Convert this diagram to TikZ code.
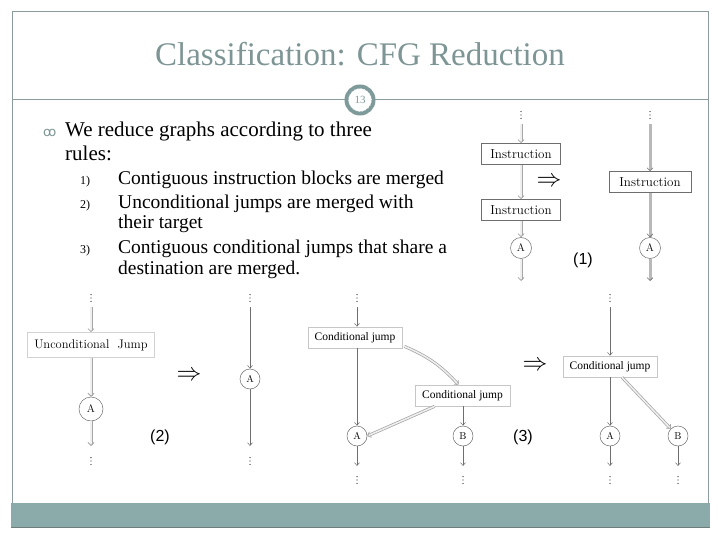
\documentclass[tikz,border=0pt]{standalone}
\usepackage{fontspec}
\newfontfamily\geo{Liberation Serif}
\newfontfamily\arl{Liberation Sans}
\newfontfamily\dvs{DejaVu Sans}
\usetikzlibrary{arrows.meta,calc}
\definecolor{framec}{HTML}{8C9C9C}
\definecolor{barc}{HTML}{8BABAA}
\definecolor{titlec}{HTML}{7E9595}
\definecolor{ringc}{HTML}{7F9A9A}
\definecolor{linec}{HTML}{6E6E6E}
\begin{document}
\begin{tikzpicture}[x=1pt,y=-1pt,
  instbox/.style={draw=linec, line width=0.6pt, fill=white, minimum width=79pt, minimum height=21pt, inner sep=0pt, font=\fontsize{13}{13}\selectfont},
  ujbox/.style={draw=gray!35, line width=0.6pt, fill=white, minimum width=127pt, minimum height=25pt, inner sep=0pt, font=\fontsize{12.5}{12.5}\selectfont},
  cjbox/.style={draw=gray!45, line width=0.6pt, fill=white, minimum width=94pt, minimum height=21pt, inner sep=0pt, font=\geo\fontsize{11.5}{11.5}\selectfont},
  vert/.style={circle, draw=linec, line width=0.5pt, fill=white, inner sep=0pt, minimum size=21pt, font=\fontsize{11}{11}\selectfont},
  dotsn/.style={inner sep=0pt, minimum width=3pt, minimum height=10pt,
    path picture={\foreach \k in {-1,0,1} \fill[black!80] ($(path picture bounding box.center)+(0,\k*3.4)$) circle (0.65pt);}},
  dbl/.style={draw=gray!70, line width=0.75pt, double=gray!12, double distance=1.5pt, -{Straight Barb[length=3pt,width=6pt]}},
  thinarr/.style={draw=linec, line width=0.5pt, -{Straight Barb[length=3pt,width=5pt]}},
  glin/.style={draw=gray!55, line width=3pt, -{Straight Barb[length=3pt,width=6pt,line width=0.6pt,color=linec]}},
  impl/.style={inner sep=0pt, font=\fontsize{25}{25}\selectfont},
  lab/.style={inner sep=0pt, font=\arl\fontsize{16}{16}\selectfont},
  bodytxt/.style={inner sep=0pt, anchor=base west, font=\geo\fontsize{21}{21}\selectfont},
  subtxt/.style={inner sep=0pt, anchor=base west, font=\geo\fontsize{19.5}{19.5}\selectfont},
  numtxt/.style={inner sep=0pt, anchor=base west, font=\geo\fontsize{12}{12}\selectfont}
]
\useasboundingbox (0,0) rectangle (720,540);
% slide frame
\draw[framec, line width=1pt] (12,503) -- (12,12) -- (708,12) -- (708,503);
\draw[framec, line width=1pt] (12,100) -- (708,100);
\fill[barc] (11,503) rectangle (710,527);
\draw[framec!80!black, line width=0.8pt] (11,527) -- (710,527);
\node[inner sep=0pt, text=titlec, font=\geo\fontsize{33}{33}\selectfont] (title) at (360,54) {Classification: CFG Reduction};
\node[circle, draw=ringc, line width=4pt, fill=white, minimum size=27pt, inner sep=0pt, text=ringc, font=\geo\fontsize{11}{11}\selectfont] (pg) at (360,100) {13};
\draw[white, line width=0.6pt, dash pattern=on 0.8pt off 2.5pt] (pg.center) circle (11.5pt);

% text
\node[inner sep=0pt, anchor=base west, font=\dvs\fontsize{13}{13}\selectfont, text=titlec] (bul) at (43,137) {ꝏ};
\node[bodytxt] (t1) at (65,137) {We reduce graphs according to three};
\node[bodytxt] (t2) at (65,161) {rules:};
\node[numtxt] (n1) at (80,185) {1)};
\node[subtxt] (s1) at (118,185) {Contiguous instruction blocks are merged};
\node[numtxt] (n2) at (80,208) {2)};
\node[subtxt] (s2) at (118,208) {Unconditional jumps are merged with};
\node[subtxt] (s2b) at (118,229) {their target};
\node[numtxt] (n3) at (80,253) {3)};
\node[subtxt] (s3) at (118,253) {Contiguous conditional jumps that share a};
\node[subtxt] (s3b) at (118,274) {destination are merged.};

% ---------- diagram (1)
\node[dotsn] (d1) at (521,115) {};
\node[instbox] (i1) at (521,154) {Instruction};
\node[instbox] (i2) at (521,210) {Instruction};
\node[vert] (a1) at (521,248) {A};
\coordinate (e1) at (521,281);
\draw[dbl] ($(d1.south)+(0,4)$) -- (i1.north);
\draw[dbl] (i1.south) -- (i2.north);
\draw[dbl] (i2.south) -- (a1.north);
\draw[dbl] (a1.south) -- (e1);

\node[dotsn] (d2) at (650,115) {};
\node[instbox, minimum width=82pt] (i3) at (650,182) {Instruction};
\node[vert] (a2) at (650,248) {A};
\coordinate (e2) at (650,281);
\draw[glin] ($(d2.south)+(0,4)$) -- (i3.north);
\draw[glin] (i3.south) -- (a2.north);
\draw[glin] (a2.south) -- (e2);
\node[impl] (imp1) at (549,182) {$\Rightarrow$};
\node[lab] (l1) at (583,260) {(1)};

% ---------- diagram (2)
\node[dotsn] (d3) at (91,298) {};
\node[ujbox] (uj) at (91,345) {Unconditional\ \ Jump};
\node[vert, minimum size=24pt] (a3) at (91,409) {A};
\coordinate (e3) at (91,446);
\node[dotsn] (d4) at (91,461) {};
\draw[dbl] ($(d3.south)+(0,4)$) -- (uj.north);
\draw[dbl] (uj.south) -- (a3.north);
\draw[dbl] (a3.south) -- (e3);

\node[dotsn] (d5) at (250,298) {};
\node[vert, minimum size=20pt, font=\fontsize{10}{10}\selectfont] (a4) at (250,379) {A};
\coordinate (e4) at (250,446);
\node[dotsn] (d6) at (250,461) {};
\draw[thinarr] ($(d5.south)+(0,4)$) -- (a4.north);
\draw[thinarr] (a4.south) -- (e4);
\node[impl] (imp2) at (189,376) {$\Rightarrow$};
\node[lab] (l2) at (160,437) {(2)};

% ---------- diagram (3)
\node[dotsn] (d7) at (357,298) {};
\node[cjbox] (c1) at (355,337.5) {Conditional jump};
\node[cjbox, minimum width=95pt] (c2) at (462.5,395.5) {Conditional jump};
\node[vert, minimum size=20pt, font=\fontsize{10}{10}\selectfont] (a5) at (357,436) {A};
\node[vert, minimum size=20pt, font=\fontsize{10}{10}\selectfont] (b1) at (463,436) {B};
\coordinate (e5) at (357,466);
\coordinate (e6) at (463,466);
\node[dotsn] (d8) at (357,480) {};
\node[dotsn] (d9) at (463,480) {};
\draw[thinarr] ($(d7.south)+(0,4)$) -- (c1.north -| d7);
\draw[thinarr] (c1.south -| a5) -- (a5.north);
\draw[dbl] ($(c1.south east)+(2,-2)$) to[bend left=12] ($(c2.north)+(-4,0)$);
\draw[thinarr] (c2.south -| b1) -- (b1.north);
\draw[dbl] ($(c2.south west)+(20,0)$) -- (a5.east);
\draw[thinarr] (a5.south) -- (e5);
\draw[thinarr] (b1.south) -- (e6);
\node[impl] (imp3) at (535,366) {$\Rightarrow$};
\node[lab] (l3) at (523,437) {(3)};

\node[dotsn] (d10) at (610,298) {};
\node[cjbox] (c3) at (610,366.5) {Conditional jump};
\node[vert, minimum size=20pt, font=\fontsize{10}{10}\selectfont] (a6) at (610,436) {A};
\node[vert, minimum size=20pt, font=\fontsize{10}{10}\selectfont] (b2) at (678,436) {B};
\coordinate (e7) at (610,466);
\coordinate (e8) at (678,466);
\node[dotsn] (d11) at (610,480) {};
\node[dotsn] (d12) at (678,480) {};
\draw[thinarr] ($(d10.south)+(0,4)$) -- (c3.north);
\draw[thinarr] (c3.south) -- (a6.north);
\draw[dbl] ($(c3.south)+(12,0)$) -- (b2.north west);
\draw[thinarr] (a6.south) -- (e7);
\draw[thinarr] (b2.south) -- (e8);
\end{tikzpicture}
\end{document}
